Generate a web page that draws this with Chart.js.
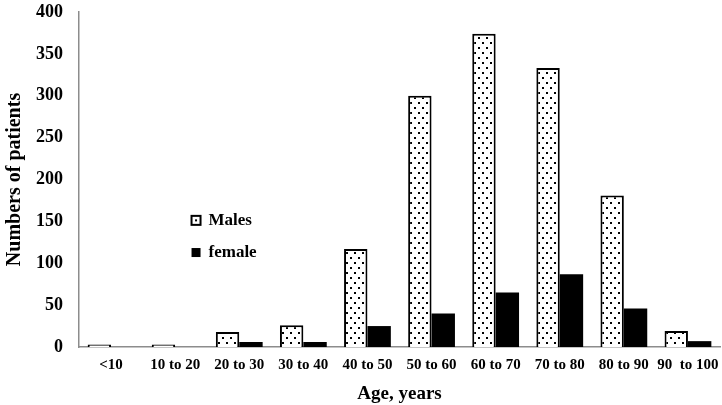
<!DOCTYPE html>
<html>
<head>
<meta charset="utf-8">
<script src="https://cdn.jsdelivr.net/npm/chart.js@4/dist/chart.umd.min.js"></script>
<style>
html,body{margin:0;padding:0;background:#fff;}
#wrap{position:relative;width:722px;height:405px;}
</style>
</head>
<body>
<div id="wrap"><canvas id="c" width="722" height="405"></canvas></div>
<script>
const categories = ["<10", "10 to 20", "20 to 30", "30 to 40", "40 to 50", "50 to 60", "60 to 70", "70 to 80", "80 to 90", "90  to 100"];
const males = [3, 3, 18, 26, 117, 300, 374, 333, 181, 19];
const females = [0, 0, 6, 6, 25, 40, 65, 87, 46, 7];
const yTicks = [0, 50, 100, 150, 200, 250, 300, 350, 400];

function dotPattern() {
  const t = document.createElement('canvas');
  t.width = 8; t.height = 10;
  const g = t.getContext('2d');
  g.fillStyle = '#fff'; g.fillRect(0, 0, 8, 10);
  g.fillStyle = '#000';
  g.fillRect(2, 2, 2, 2);
  g.fillRect(6, 7, 2, 2);
  return g.createPattern(t, 'repeat');
}
const pat = dotPattern();
const FONT = '"Liberation Serif", "Times New Roman", serif';

const legendPlugin = {
  id: 'insideLegend',
  afterDraw(chart) {
    const ctx = chart.ctx;
    const a = chart.chartArea;
    const x = a.left + (a.right - a.left) * 0.174;
    const ys = [a.top + (a.bottom - a.top) * 0.622, a.top + (a.bottom - a.top) * 0.718];
    chart.data.datasets.forEach((ds, i) => {
      const y = ys[i];
      ctx.save();
      if (ds.borderWidth) {
        ctx.fillStyle = '#fff';
        ctx.fillRect(x, y - 5.5, 11, 11);
        ctx.strokeStyle = '#000'; ctx.lineWidth = 2;
        ctx.strokeRect(x + 1, y - 4.5, 9, 9);
        ctx.fillStyle = '#000';
        ctx.fillRect(x + 4.5, y - 1, 2, 2);
      } else {
        ctx.fillStyle = ds.backgroundColor;
        ctx.fillRect(x + 1, y - 4.5, 9, 9);
      }
      ctx.fillStyle = '#000';
      ctx.font = 'bold 17px ' + FONT;
      ctx.textBaseline = 'middle';
      ctx.fillText(ds.label, x + 18, y);
      ctx.restore();
    });
  }
};

new Chart(document.getElementById('c'), {
  type: 'bar',
  data: {
    labels: categories,
    datasets: [
      { label: 'Males', data: males, backgroundColor: pat, borderColor: '#000', borderWidth: 2, borderSkipped: 'bottom' },
      { label: 'female', data: females, backgroundColor: '#000', borderWidth: 0 }
    ]
  },
  options: {
    responsive: false,
    animation: false,
    devicePixelRatio: 1,
    layout: { padding: { top: 12, right: 2, bottom: 0, left: 0 } },
    datasets: { bar: { categoryPercentage: 0.73, barPercentage: 1.0 } },
    plugins: { legend: { display: false }, tooltip: { enabled: false } },
    scales: {
      x: {
        afterFit(s) { s.height = 58; s.paddingLeft = 0; s.paddingRight = 0; },
        grid: { display: false, drawTicks: false },
        border: { display: true, color: '#8c8c8c', width: 1.5 },
        ticks: { color: '#000', font: { family: FONT, size: 15, weight: 'bold' }, padding: 9, maxRotation: 0, autoSkip: false },
        title: { display: true, text: 'Age, years', color: '#000', font: { family: FONT, size: 19, weight: 'bold' }, padding: { top: 2, bottom: 0 } }
      },
      y: {
        min: 0, max: 400,
        afterBuildTicks(s) { s.ticks = yTicks.map(v => ({ value: v })); },
        afterFit(s) { s.width = 79; s.paddingTop = 0; s.paddingBottom = 0; },
        grid: { display: false, drawTicks: false },
        border: { display: true, color: '#8c8c8c', width: 1.5 },
        ticks: { color: '#000', font: { family: FONT, size: 18, weight: 'bold' }, padding: 16 },
        title: { display: true, text: 'Numbers of patients', color: '#000', font: { family: FONT, size: 20, weight: 'bold' }, padding: { top: 3, bottom: 0 } }
      }
    }
  },
  plugins: [legendPlugin]
});
</script>
</body>
</html>
